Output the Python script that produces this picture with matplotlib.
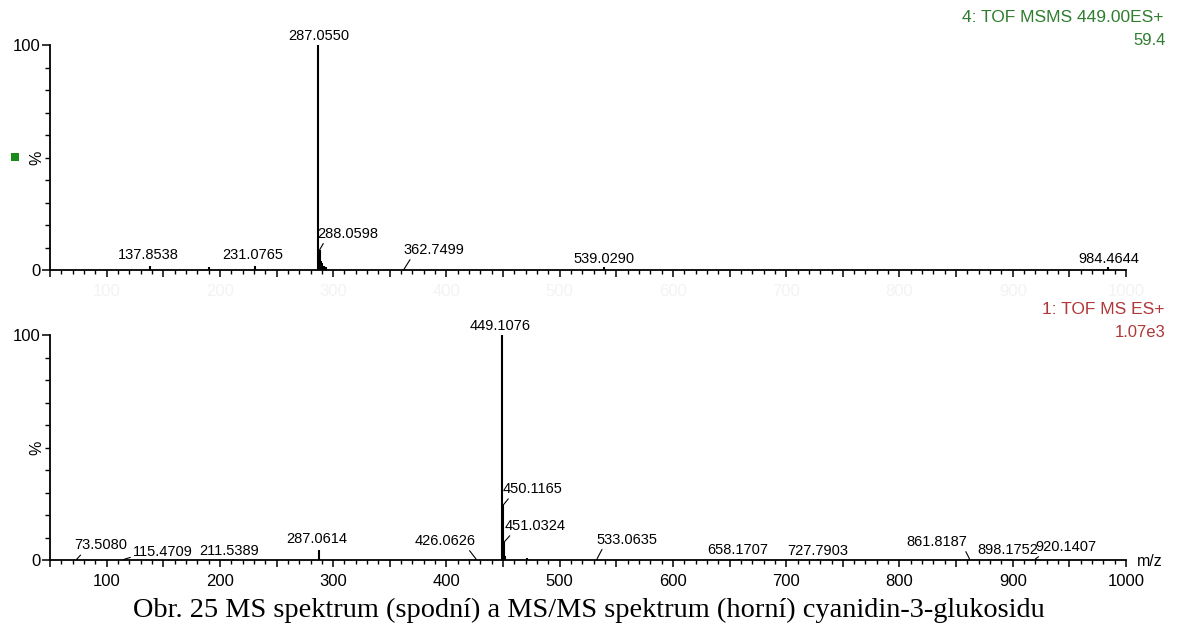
import matplotlib
matplotlib.use("Agg")
import matplotlib.pyplot as plt
from matplotlib.ticker import MultipleLocator
from matplotlib.patches import Rectangle

# ---------------- data ----------------
# MS/MS spectrum (top panel)
msms_mz = [137.8538, 190.3, 231.0765, 287.0550, 288.0598, 289.06, 290.05, 292.1, 294.0, 362.7499, 539.0290, 984.4644]
msms_int = [1.6, 1.4, 1.8, 100.0, 9.0, 4.0, 3.0, 2.0, 1.5, 0.5, 1.5, 1.5]
msms_labels = ["137.8538", None, "231.0765", "287.0550", "288.0598", None, None, None, None, "362.7499", "539.0290", "984.4644"]

# MS spectrum (bottom panel)
ms_mz = [73.5080, 115.4709, 211.5389, 287.0614, 426.0626, 449.1076, 450.1165, 451.0324, 452.10, 471.0,
         533.0635, 658.1707, 727.7903, 861.8187, 898.1752, 920.1407]
ms_int = [0.3, 0.3, 0.3, 4.5, 0.5, 100.0, 24.4, 8.0, 2.0, 1.0,
          0.6, 0.5, 0.3, 0.5, 0.3, 0.5]
ms_labels = ["73.5080", "115.4709", "211.5389", "287.0614", "426.0626", "449.1076", "450.1165", "451.0324", None, None,
             "533.0635", "658.1707", "727.7903", "861.8187", "898.1752", "920.1407"]

x_ticks = [100, 200, 300, 400, 500, 600, 700, 800, 900, 1000]
x_range = (50, 1000)
top_header = ["4: TOF MSMS 449.00ES+", "59.4"]
bottom_header = ["1: TOF MS ES+", "1.07e3"]
caption = "Obr. 25 MS spektrum (spodní) a MS/MS spektrum (horní) cyanidin-3-glukosidu"

# ---------------- layout (label placement, pixels) ----------------
# (dx, dy, ha, relpos or None)
msms_pos = {
    "137.8538": (-1, 4, "center", None),
    "231.0765": (-2, 4, "center", None),
    "287.0550": (0, 2, "center", None),
    "288.0598": (-2, 9, "left", (0.12, 0.0)),
    "362.7499": (-1, 12, "left", (0.14, 0.0)),
    "539.0290": (0, 1, "center", None),
    "984.4644": (0, 1, "center", None),
}
ms_pos = {
    "73.5080": (-2, 7, "left", (0.16, 0.0)),
    "115.4709": (9, 0, "left", (0.0, 0.2)),
    "211.5389": (-4, 1, "center", None),
    "287.0614": (-2, 4, "center", None),
    "426.0626": (0, 11, "right", (0.86, 0.0)),
    "449.1076": (-2, 2, "center", None),
    "450.1165": (-1, 9, "left", (0.14, 0.0)),
    "451.0324": (0, 9, "left", (0.13, 0.0)),
    "533.0635": (-1, 12, "left", (0.12, 0.0)),
    "658.1707": (-1, 2, "center", None),
    "727.7903": (0, 1, "center", None),
    "861.8187": (-2, 10, "right", (0.95, 0.0)),
    "898.1752": (-3, 2, "center", None),
    "920.1407": (0, 5, "left", (0.11, 0.0)),
}

plt.rcParams['font.family'] = ['Liberation Sans', 'DejaVu Sans']

W, H = 1177, 627
fig = plt.figure(figsize=(W / 100, H / 100), dpi=100)

def ax_rect(left_px, right_px, top_px, bottom_px):
    return [left_px / W, 1 - bottom_px / H, (right_px - left_px) / W, (bottom_px - top_px) / H]

ax_top = fig.add_axes(ax_rect(50, 1126, 45, 270))
ax_bot = fig.add_axes(ax_rect(50, 1126, 335, 560))

def style_axis(ax, ticklabel_color):
    ax.set_xlim(*x_range)
    ax.set_ylim(0, 100)
    for s in ("top", "right"):
        ax.spines[s].set_visible(False)
    for s in ("left", "bottom"):
        ax.spines[s].set_linewidth(1.3)
    ax.xaxis.set_minor_locator(MultipleLocator(10))
    ax.set_xticks([t for t in range(50, 1001, 50)], minor=False)
    ax.set_xticklabels([str(t) if t in x_ticks else "" for t in range(50, 1001, 50)],
                       fontsize=12, color=ticklabel_color)
    ax.set_yticks([0, 100])
    ax.set_yticklabels(["0", "100"], fontsize=12)
    ax.yaxis.set_minor_locator(MultipleLocator(10))
    ax.tick_params(axis="x", which="major", direction="out", length=5, width=1.1, pad=5)
    ax.tick_params(axis="x", which="minor", direction="out", length=3, width=1.0)
    ax.tick_params(axis="y", which="major", direction="out", length=6, width=1.1, pad=1)
    ax.tick_params(axis="y", which="minor", direction="out", length=3.5, width=1.0)
    ax.text(-0.012, 0.5, "%", transform=ax.transAxes, rotation=90, ha="center", va="center", fontsize=11.5)

def draw_spectrum(ax, mz, inten, labels, pos):
    ax.vlines(mz, 0, inten, colors="black", linewidth=1.5)
    for m, i, lab in zip(mz, inten, labels):
        if lab is None:
            continue
        dx, dy, ha, rel = pos[lab]
        kw = {}
        if rel is not None:
            kw["arrowprops"] = dict(arrowstyle="-", lw=0.8, color="black", shrinkA=0, shrinkB=0, relpos=rel)
        ax.annotate(lab, xy=(m, i), xytext=(dx, dy), textcoords="offset pixels",
                    ha=ha, va="bottom", fontsize=10.5, color="black", annotation_clip=False, **kw)

style_axis(ax_top, "#f3f3f3")
style_axis(ax_bot, "black")
draw_spectrum(ax_top, msms_mz, msms_int, msms_labels, msms_pos)
draw_spectrum(ax_bot, ms_mz, ms_int, ms_labels, ms_pos)

ax_bot.text(1137 / W, 1 - 566 / H, "m/z", transform=fig.transFigure, ha="left", va="baseline", fontsize=11.5)

green = "#2f7d2f"
red = "#b03838"
fig.text(1164 / W, 1 - 22 / H, top_header[0], ha="right", va="baseline", fontsize=12.5, color=green)
fig.text(1166 / W, 1 - 45 / H, top_header[1], ha="right", va="baseline", fontsize=12, color=green)
fig.text(1164 / W, 1 - 314 / H, bottom_header[0], ha="right", va="baseline", fontsize=12.5, color=red)
fig.text(1166 / W, 1 - 337 / H, bottom_header[1], ha="right", va="baseline", fontsize=12, color=red)

fig.add_artist(Rectangle((11 / W, 1 - 161 / H), 8 / W, 8 / H, transform=fig.transFigure,
                         facecolor="#1a8a1a", edgecolor="none"))

cap = fig.text(0.5, 1 - 617 / H, caption, ha="center", va="baseline", fontsize=22,
               family=["Liberation Serif", "DejaVu Serif"], color="black")
fig.canvas.draw()
w = cap.get_window_extent(fig.canvas.get_renderer()).width
cap.set_fontsize(22 * 910.0 / w)

fig.savefig("out.png", dpi=100)
